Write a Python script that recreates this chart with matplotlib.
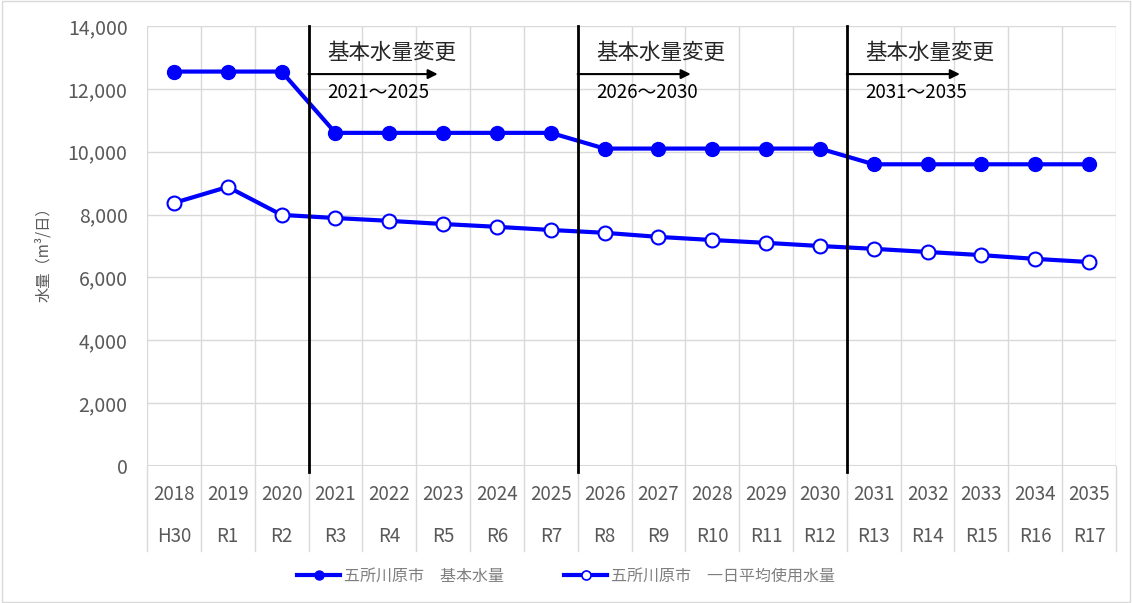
import numpy as np
import matplotlib.pyplot as plt
from matplotlib.lines import Line2D

plt.rcParams['font.family'] = ['Noto Sans CJK JP', 'DejaVu Sans']

# ── Donnees ─────────────────────────────────────────────────────────────────
years = ['2018', '2019', '2020', '2021', '2022', '2023', '2024', '2025', '2026',
         '2027', '2028', '2029', '2030', '2031', '2032', '2033', '2034', '2035']
eras = ['H30', 'R1', 'R2', 'R3', 'R4', 'R5', 'R6', 'R7', 'R8',
        'R9', 'R10', 'R11', 'R12', 'R13', 'R14', 'R15', 'R16', 'R17']
base_water = [12550, 12550, 12550, 10600, 10600, 10600, 10600, 10600, 10100,
              10100, 10100, 10100, 10100, 9600, 9600, 9600, 9600, 9600]
avg_use = [8370, 8880, 7990, 7890, 7800, 7700, 7610, 7510, 7420,
           7290, 7190, 7100, 7000, 6910, 6810, 6710, 6590, 6490]
periods = ['2021～2025', '2026～2030', '2031～2035']
period_start = [2.5, 7.5, 12.5]
arrow_end = [4.9, 9.6, 14.6]

BLUE = '#0000FF'
GRAY = '#595959'
GRID = '#D9D9D9'

fig = plt.figure(figsize=(11.32, 6.03), dpi=100)
ax = fig.add_axes([147/1132, 1 - 466/603, (1116 - 147)/1132, (466 - 26)/603])

x = np.arange(len(years))
ax.plot(x, base_water, color=BLUE, lw=3, marker='o', ms=10,
        mfc=BLUE, mec=BLUE, zorder=4)
ax.plot(x, avg_use, color=BLUE, lw=3, marker='o', ms=10,
        mfc='white', mec=BLUE, mew=1.5, zorder=4)

ax.set_xlim(-0.5, len(years) - 0.5)
ax.set_ylim(0, 14000)
ax.set_yticks(np.arange(0, 14001, 2000))
ax.set_yticklabels([f'{v:,}' for v in range(0, 14001, 2000)])
ax.tick_params(axis='y', length=0, labelsize=14, labelcolor=GRAY, pad=14)
ax.set_xticks([])
ax.grid(axis='y', color=GRID, lw=1)
for b in np.arange(-0.5, len(years), 1.0):
    ax.axvline(b, color=GRID, lw=1, zorder=0)
    ax.plot([b, b], [0, -2700], color=GRID, lw=1, clip_on=False, zorder=0)
for s in ax.spines.values():
    s.set_visible(False)
ax.axhline(0, color=GRID, lw=1.5)

# etiquettes multi-niveaux
for i in range(len(years)):
    ax.text(i, -900, years[i], ha='center', va='center', fontsize=13.5, color=GRAY)
    ax.text(i, -2250, eras[i], ha='center', va='center', fontsize=13.5, color=GRAY)

ax.set_ylabel('水量（m³/日）', fontsize=11, color=GRAY)
ax.yaxis.set_label_coords(-95/969, 0.49)

# changements du volume de base
for p, s, e in zip(periods, period_start, arrow_end):
    ax.plot([s, s], [-200, 14000], color='black', lw=2, clip_on=False, zorder=5)
    ax.annotate('', xy=(e, 12470), xytext=(s, 12470),
                arrowprops=dict(arrowstyle='-|>', color='black', lw=1.5,
                                mutation_scale=14, shrinkA=0, shrinkB=0))
    ax.text(s + 0.35, 13150, '基本水量変更', fontsize=15.5, color='#262626',
            va='center', ha='left')
    ax.text(s + 0.35, 11880, p, fontsize=13.5, color='black', va='center', ha='left')

handles = [
    Line2D([], [], color=BLUE, lw=3, marker='o', ms=6.5, mfc=BLUE, mec=BLUE),
    Line2D([], [], color=BLUE, lw=3, marker='o', ms=6.5, mfc='white', mec=BLUE, mew=1.2),
]
fig.legend(handles, ['五所川原市　基本水量', '五所川原市　一日平均使用水量'],
           loc='center', bbox_to_anchor=(0.5, 1 - 576/603), ncol=2, frameon=False,
           fontsize=11.5, labelcolor='#7F7F7F', handlelength=2.7, handletextpad=0.2,
           columnspacing=3.8)

fig.patches.append(plt.Rectangle((0.002, 0.002), 0.996, 0.996, transform=fig.transFigure,
                                 fill=False, edgecolor=GRID, lw=1))

plt.savefig('out.png', dpi=100)
